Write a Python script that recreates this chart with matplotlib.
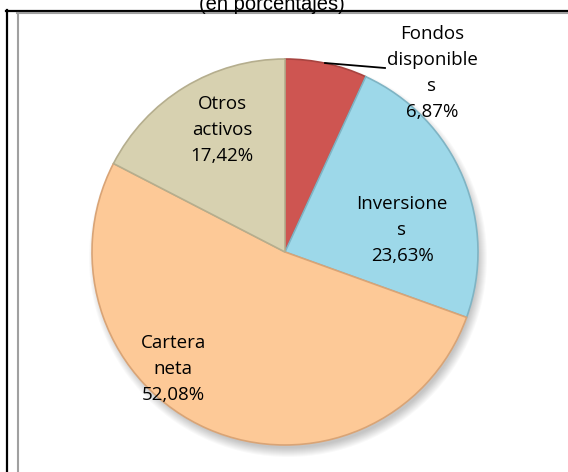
import matplotlib.pyplot as plt
from matplotlib.patches import Circle

# data
labels = ["Fondos\ndisponible\ns", "Inversione\ns", "Cartera\nneta", "Otros\nactivos"]
values = [6.87, 23.63, 52.08, 17.42]
colors = ["#CE5551", "#9DD8E9", "#FDC997", "#D7D1B0"]
edges = ["#A84440", "#7FB4C4", "#D9A476", "#B5AE8E"]
# label centers in pixels (x, y from top)
label_pos = [(432, 73), (402, 230), (173, 369), (222, 130)]

W, H = 568, 472
fig = plt.figure(figsize=(W / 100, H / 100), dpi=100)
ax = fig.add_axes([0, 0, 1, 1])

cx, cy, r = 285, H - 252, 193

# soft shadow under the pie
for i in range(10):
    ax.add_patch(Circle((cx + 3, cy - 6), r + 6 - i, color="black", alpha=0.025, lw=0, zorder=1))

wedges, _ = ax.pie(values, startangle=90, counterclock=False, colors=colors,
                   center=(cx, cy), radius=r, frame=True,
                   wedgeprops=dict(linewidth=1.2, zorder=2))
for w, e in zip(wedges, edges):
    w.set_edgecolor(e)
ax.set_xlim(0, W)
ax.set_ylim(0, H)
ax.set_aspect("equal")
ax.axis("off")

for lab, v, (px, py) in zip(labels, values, label_pos):
    txt = lab + "\n" + f"{v:.2f}".replace(".", ",") + "%"
    ax.text(px, H - py, txt, ha="center", va="center", fontsize=13.5,
            family="Open Sans", linespacing=1.55, zorder=5)

# leader line for Fondos disponibles
ax.plot([325, 385], [H - 63, H - 68], color="black", lw=1.3, zorder=4)

# title (cut off at top, as in the source)
fig.text(272 / W, 1 - 4 / H, "(en porcentajes)", ha="center", va="center",
         fontsize=14.5, family="Liberation Sans")

# chart frame lines
fig.add_artist(plt.Line2D([6 / W, 1], [1 - 10.5 / H, 1 - 10.5 / H], color="black", lw=1.6))
fig.add_artist(plt.Line2D([6.5 / W, 6.5 / W], [0, 1 - 10 / H], color="black", lw=1.6))
fig.add_artist(plt.Line2D([17 / W, 1], [1 - 13 / H, 1 - 13 / H], color="#A0A0A0", lw=1.5))
fig.add_artist(plt.Line2D([17.5 / W, 17.5 / W], [0, 1 - 13 / H], color="#A0A0A0", lw=1.5))

fig.savefig("out.png", dpi=100)
